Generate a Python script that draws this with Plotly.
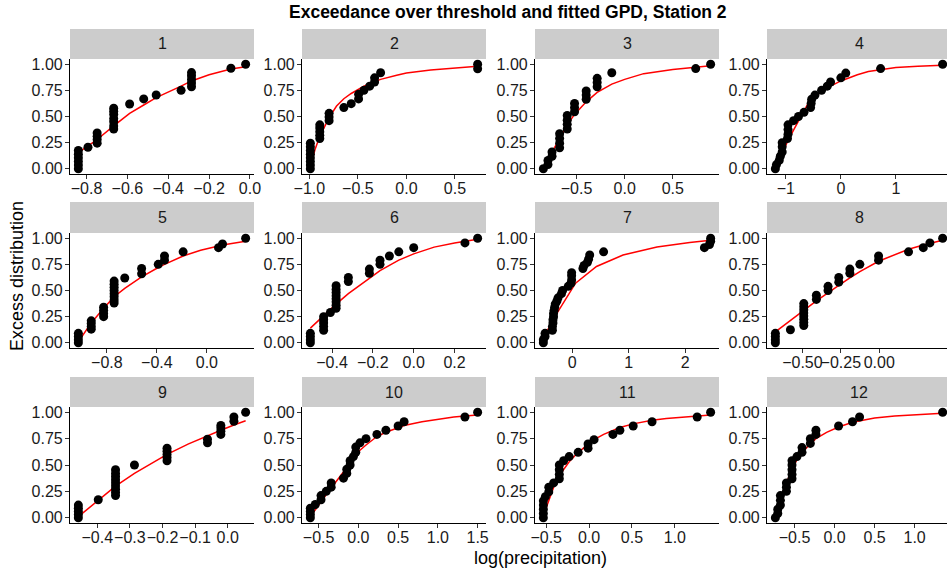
import plotly.graph_objects as go

W, H = 947, 572

# ---------------- data ----------------
months = ["1", "2", "3", "4", "5", "6", "7", "8", "9", "10", "11", "12"]

x1 = [-0.84, -0.84, -0.84, -0.84, -0.84, -0.84, -0.793, -0.748, -0.748, -0.748, -0.748,
      -0.667, -0.667, -0.667, -0.667, -0.667, -0.667, -0.667, -0.589, -0.52, -0.459, -0.337,
      -0.286, -0.286, -0.286, -0.286, -0.286, -0.093, -0.021]
y1 = [0.0, 0.035, 0.07, 0.105, 0.14, 0.175, 0.206, 0.245, 0.28, 0.31, 0.342,
      0.38, 0.41, 0.45, 0.48, 0.52, 0.55, 0.58, 0.62, 0.668, 0.706, 0.75,
      0.785, 0.82, 0.855, 0.89, 0.92, 0.962, 1.0]
fx1 = [-0.84, -0.793, -0.748, -0.667, -0.589, -0.52, -0.459, -0.337, -0.286, -0.2, -0.093, -0.021]
fy1 = [0.155, 0.22, 0.28, 0.41, 0.53, 0.61, 0.68, 0.79, 0.84, 0.90, 0.955, 0.975]

x2 = [-0.99, -0.99, -0.99, -0.99, -0.99, -0.99, -0.99, -0.99,
      -0.893, -0.893, -0.893, -0.893, -0.893, -0.797, -0.797, -0.797,
      -0.645, -0.569, -0.493, -0.493, -0.438, -0.379, -0.328, -0.328, -0.266, 0.734, 0.734]
y2 = [0.0, 0.035, 0.07, 0.105, 0.14, 0.175, 0.21, 0.245,
      0.29, 0.32, 0.355, 0.39, 0.42, 0.46, 0.495, 0.53,
      0.585, 0.623, 0.668, 0.712, 0.75, 0.79, 0.83, 0.87, 0.918, 0.956, 1.0]
fx2 = [-0.99, -0.94, -0.893, -0.797, -0.72, -0.645, -0.569, -0.493, -0.438, -0.379, -0.328,
       -0.266, -0.1, 0.0, 0.25, 0.5, 0.734]
fy2 = [0.02, 0.19, 0.31, 0.49, 0.60, 0.67, 0.72, 0.765, 0.79, 0.815, 0.835,
       0.855, 0.895, 0.915, 0.945, 0.965, 0.98]

x3 = [-0.845, -0.797, -0.797, -0.755, -0.755, -0.676, -0.676, -0.676, -0.676,
      -0.597, -0.597, -0.597, -0.597, -0.521, -0.521, -0.521, -0.4, -0.4, -0.4,
      -0.286, -0.286, -0.286, -0.134, 0.738, 0.893]
y3 = [0.0, 0.04, 0.08, 0.12, 0.16, 0.20, 0.245, 0.29, 0.335,
      0.38, 0.425, 0.465, 0.51, 0.545, 0.585, 0.625, 0.665, 0.705, 0.745,
      0.785, 0.825, 0.865, 0.918, 0.958, 1.0]
fx3 = [-0.845, -0.797, -0.755, -0.676, -0.597, -0.521, -0.4, -0.286, -0.134, 0.0, 0.197,
       0.5, 0.738, 0.893]
fy3 = [0.01, 0.09, 0.17, 0.30, 0.42, 0.52, 0.64, 0.73, 0.81, 0.855, 0.91,
       0.95, 0.972, 0.985]

x4 = [-1.19, -1.17, -1.12, -1.10, -1.066, -1.066, -1.066, -0.97, -0.96, -0.96, -0.96,
      -0.86, -0.77, -0.67, -0.55, -0.54, -0.53, -0.47, -0.35, -0.247, -0.187, 0.0, 0.09, 0.723, 1.85]
y4 = [0.0, 0.04, 0.08, 0.12, 0.16, 0.21, 0.25, 0.29, 0.33, 0.375, 0.42,
      0.46, 0.50, 0.54, 0.585, 0.625, 0.665, 0.705, 0.75, 0.79, 0.83, 0.87, 0.915, 0.958, 1.0]
fx4 = [-1.19, -1.11, -1.066, -0.96, -0.86, -0.77, -0.67, -0.58, -0.47, -0.35, -0.247, -0.187,
       0.0, 0.09, 0.3, 0.5, 0.723, 1.0, 1.4, 1.85]
fy4 = [0.02, 0.11, 0.16, 0.27, 0.37, 0.46, 0.56, 0.64, 0.69, 0.74, 0.77, 0.79,
       0.84, 0.86, 0.90, 0.93, 0.95, 0.968, 0.98, 0.99]

x5 = [-1.028, -1.028, -1.028, -1.028, -0.925, -0.925, -0.925, -0.925, -0.826, -0.826, -0.826, -0.826,
      -0.742, -0.742, -0.742, -0.742, -0.742, -0.742, -0.742, -0.742, -0.657, -0.522, -0.522,
      -0.389, -0.339, -0.339, -0.19, 0.093, 0.125, 0.31]
y5 = [0.0, 0.03, 0.06, 0.09, 0.13, 0.155, 0.185, 0.21, 0.25, 0.28, 0.31, 0.34,
      0.38, 0.41, 0.44, 0.47, 0.50, 0.53, 0.56, 0.59, 0.62, 0.66, 0.71,
      0.75, 0.79, 0.83, 0.87, 0.91, 0.945, 1.0]
fx5 = [-1.028, -0.925, -0.826, -0.742, -0.657, -0.522, -0.389, -0.339, -0.19, -0.05, 0.093, 0.125, 0.31]
fy5 = [0.01, 0.19, 0.33, 0.44, 0.52, 0.63, 0.72, 0.75, 0.83, 0.885, 0.925, 0.935, 0.97]

x6 = [-0.506, -0.506, -0.506, -0.506, -0.441, -0.441, -0.441, -0.441, -0.441, -0.408,
      -0.38, -0.38, -0.38, -0.38, -0.38, -0.38, -0.38, -0.38, -0.32, -0.32, -0.217, -0.217,
      -0.165, -0.165, -0.119, -0.073, 0.0, 0.251, 0.313]
y6 = [0.0, 0.03, 0.06, 0.09, 0.12, 0.155, 0.19, 0.22, 0.25, 0.29,
      0.33, 0.36, 0.39, 0.42, 0.45, 0.48, 0.51, 0.545, 0.585, 0.625, 0.665, 0.705,
      0.75, 0.79, 0.83, 0.87, 0.91, 0.955, 1.0]
fx6 = [-0.506, -0.441, -0.408, -0.38, -0.32, -0.217, -0.165, -0.119, -0.073, 0.0, 0.1, 0.2, 0.251, 0.313]
fy6 = [0.14, 0.26, 0.32, 0.37, 0.47, 0.62, 0.69, 0.74, 0.79, 0.85, 0.915, 0.955, 0.972, 0.99]

x7 = [-0.51, -0.51, -0.48, -0.48, -0.35, -0.35, -0.34, -0.34, -0.33, -0.33, -0.32, -0.31, -0.30,
      -0.27, -0.25, -0.19, -0.17, -0.07, -0.02, -0.01, -0.01, -0.01, 0.19, 0.21,
      0.27, 0.29, 0.31, 0.556, 2.34, 2.43, 2.45, 2.45]
y7 = [0.0, 0.03, 0.06, 0.09, 0.12, 0.155, 0.19, 0.22, 0.25, 0.28, 0.31, 0.34, 0.37,
      0.40, 0.43, 0.47, 0.50, 0.54, 0.57, 0.60, 0.64, 0.67, 0.71, 0.74,
      0.77, 0.80, 0.84, 0.87, 0.91, 0.94, 0.97, 1.0]
fx7 = [-0.5, -0.26, 0.06, 0.43, 0.9, 1.5, 2.08, 2.45]
fy7 = [0.06, 0.29, 0.57, 0.73, 0.84, 0.915, 0.96, 0.98]

x8 = [-0.676, -0.676, -0.676, -0.676, -0.578, -0.491, -0.491, -0.491, -0.491, -0.491, -0.491,
      -0.491, -0.491, -0.409, -0.409, -0.333, -0.333, -0.263, -0.263, -0.191, -0.191, -0.126,
      -0.004, -0.004, 0.191, 0.287, 0.33, 0.413]
y8 = [0.0, 0.03, 0.06, 0.09, 0.125, 0.165, 0.195, 0.225, 0.255, 0.285, 0.315,
      0.345, 0.375, 0.415, 0.455, 0.50, 0.54, 0.58, 0.625, 0.665, 0.705, 0.75,
      0.79, 0.83, 0.87, 0.91, 0.955, 1.0]
fx8 = [-0.676, -0.578, -0.491, -0.409, -0.333, -0.263, -0.191, -0.126, -0.004, 0.1, 0.191, 0.287, 0.33, 0.413]
fy8 = [0.105, 0.21, 0.31, 0.40, 0.48, 0.55, 0.62, 0.68, 0.78, 0.845, 0.895, 0.935, 0.95, 0.98]

x9 = [-0.458, -0.458, -0.458, -0.458, -0.458, -0.397, -0.344, -0.344, -0.344, -0.344, -0.344,
      -0.344, -0.344, -0.344, -0.344, -0.286, -0.186, -0.186, -0.186, -0.186, -0.186,
      -0.062, -0.062, -0.021, -0.021, -0.021, -0.021, 0.019, 0.019, 0.055]
y9 = [0.0, 0.03, 0.06, 0.09, 0.12, 0.17, 0.21, 0.24, 0.27, 0.30, 0.33,
      0.36, 0.39, 0.42, 0.455, 0.50, 0.54, 0.57, 0.60, 0.63, 0.66,
      0.71, 0.745, 0.79, 0.82, 0.85, 0.875, 0.915, 0.955, 1.0]
fx9 = [-0.458, -0.397, -0.344, -0.286, -0.186, -0.12, -0.062, -0.021, 0.019, 0.055]
fy9 = [0.01, 0.17, 0.30, 0.42, 0.60, 0.70, 0.78, 0.83, 0.88, 0.92]

x10 = [-0.604, -0.604, -0.604, -0.604, -0.542, -0.47, -0.47, -0.404, -0.342, -0.342, -0.1875,
       -0.146, -0.146, -0.104, -0.104, -0.0625, -0.033, -0.033, 0.02, 0.096, 0.233, 0.346,
       0.5, 0.575, 1.34, 1.5]
y10 = [0.0, 0.03, 0.06, 0.09, 0.125, 0.17, 0.21, 0.25, 0.29, 0.33, 0.375,
       0.42, 0.46, 0.50, 0.54, 0.58, 0.62, 0.67, 0.71, 0.75, 0.79, 0.83,
       0.87, 0.91, 0.955, 1.0]
fx10 = [-0.604, -0.542, -0.47, -0.404, -0.342, -0.26, -0.1875, -0.146, -0.104, -0.0625, -0.033,
        0.02, 0.096, 0.233, 0.346, 0.5, 0.575, 0.8, 1.0, 1.2, 1.34, 1.5]
fy10 = [0.01, 0.07, 0.15, 0.22, 0.28, 0.37, 0.44, 0.48, 0.52, 0.56, 0.59,
        0.64, 0.69, 0.77, 0.81, 0.855, 0.875, 0.91, 0.935, 0.955, 0.965, 0.975]

x11 = [-0.533, -0.533, -0.533, -0.533, -0.533, -0.51, -0.47, -0.47, -0.413,
       -0.347, -0.347, -0.347, -0.347, -0.297, -0.232, -0.127, -0.012, -0.012,
       0.058, 0.278, 0.359, 0.514, 0.734, 1.26, 1.417]
y11 = [0.0, 0.04, 0.08, 0.12, 0.16, 0.20, 0.245, 0.29, 0.33,
       0.37, 0.41, 0.455, 0.50, 0.54, 0.58, 0.62, 0.66, 0.70,
       0.74, 0.79, 0.83, 0.87, 0.91, 0.955, 1.0]
fx11 = [-0.533, -0.47, -0.413, -0.347, -0.297, -0.232, -0.127, -0.012, 0.058, 0.17, 0.278,
        0.359, 0.514, 0.734, 0.9, 1.1, 1.26, 1.417]
fy11 = [0.02, 0.17, 0.29, 0.40, 0.46, 0.53, 0.62, 0.70, 0.74, 0.79, 0.83,
        0.855, 0.89, 0.925, 0.942, 0.956, 0.965, 0.975]

x12 = [-0.74, -0.71, -0.71, -0.677, -0.677, -0.677, -0.602, -0.602, -0.602,
       -0.532, -0.532, -0.532, -0.532, -0.532, -0.47, -0.407, -0.407, -0.303, -0.303,
       -0.233, -0.233, 0.05, 0.224, 0.312, 1.35]
y12 = [0.0, 0.04, 0.08, 0.12, 0.165, 0.21, 0.25, 0.29, 0.33,
       0.37, 0.41, 0.455, 0.50, 0.54, 0.58, 0.62, 0.665, 0.705, 0.75,
       0.79, 0.83, 0.87, 0.91, 0.955, 1.0]
fx12 = [-0.74, -0.71, -0.677, -0.602, -0.532, -0.47, -0.407, -0.303, -0.233, -0.1, 0.05,
        0.224, 0.312, 0.5, 0.75, 1.0, 1.35]
fy12 = [0.05, 0.12, 0.19, 0.33, 0.46, 0.55, 0.62, 0.70, 0.75, 0.81, 0.86,
        0.905, 0.92, 0.945, 0.965, 0.978, 0.99]

points_x = [x1, x2, x3, x4, x5, x6, x7, x8, x9, x10, x11, x12]
points_y = [y1, y2, y3, y4, y5, y6, y7, y8, y9, y10, y11, y12]
fit_x = [fx1, fx2, fx3, fx4, fx5, fx6, fx7, fx8, fx9, fx10, fx11, fx12]
fit_y = [fy1, fy2, fy3, fy4, fy5, fy6, fy7, fy8, fy9, fy10, fy11, fy12]

x_tickvals = [
    [-0.8, -0.6, -0.4, -0.2, 0.0],
    [-1.0, -0.5, 0.0, 0.5],
    [-0.5, 0.0, 0.5],
    [-1, 0, 1],
    [-0.8, -0.4, 0.0],
    [-0.4, -0.2, 0.0, 0.2],
    [0, 1, 2],
    [-0.5, -0.25, 0.0],
    [-0.4, -0.3, -0.2, -0.1, 0.0],
    [-0.5, 0.0, 0.5, 1.0, 1.5],
    [-0.5, 0.0, 0.5, 1.0],
    [-0.5, 0.0, 0.5, 1.0],
]
x_ticktext = [
    ["\u22120.8", "\u22120.6", "\u22120.4", "\u22120.2", "0.0"],
    ["\u22121.0", "\u22120.5", "0.0", "0.5"],
    ["\u22120.5", "0.0", "0.5"],
    ["\u22121", "0", "1"],
    ["\u22120.8", "\u22120.4", "0.0"],
    ["\u22120.4", "\u22120.2", "0.0", "0.2"],
    ["0", "1", "2"],
    ["\u22120.50", "\u22120.25", "0.00"],
    ["\u22120.4", "\u22120.3", "\u22120.2", "\u22120.1", "0.0"],
    ["\u22120.5", "0.0", "0.5", "1.0", "1.5"],
    ["\u22120.5", "0.0", "0.5", "1.0"],
    ["\u22120.5", "0.0", "0.5", "1.0"],
]
y_tickvals = [0.0, 0.25, 0.5, 0.75, 1.0]
y_ticktext = ["0.00", "0.25", "0.50", "0.75", "1.00"]

title = "Exceedance over threshold and fitted GPD, Station 2"
x_title = "log(precipitation)"
y_title = "Excess distribution"

# ---------------- layout geometry (pixels) ----------------
# full panel extent; the last column runs slightly past the page edge in the reference
col_px = [(70, 254), (302, 486), (535, 719), (767, 951)]
row_panel_px = [(59, 174), (233, 348), (407, 523)]
row_strip_px = [(29, 59), (202, 233), (377, 407)]

FONT = "Liberation Sans, Arial, Helvetica, sans-serif"
TXT = "#1A1A1A"
TICK_SIZE = 16


def px_x(p):
    return min(p, W) / W


def px_y(p):
    return 1 - p / H


fig = go.Figure()
layout = dict(
    width=W, height=H,
    margin=dict(l=0, r=0, t=0, b=0, autoexpand=False),
    paper_bgcolor="white", plot_bgcolor="white",
    showlegend=False,
    font=dict(family=FONT, color=TXT),
)
shapes = []
annotations = []

for k in range(12):
    r, c = divmod(k, 4)
    xn = "x" if k == 0 else f"x{k + 1}"
    yn = "y" if k == 0 else f"y{k + 1}"
    xa = "xaxis" if k == 0 else f"xaxis{k + 1}"
    ya = "yaxis" if k == 0 else f"yaxis{k + 1}"

    fig.add_trace(go.Scatter(x=fit_x[k], y=fit_y[k], mode="lines",
                             line=dict(color="#FF0000", width=1.5),
                             xaxis=xn, yaxis=yn, hoverinfo="skip"))
    fig.add_trace(go.Scatter(x=points_x[k], y=points_y[k], mode="markers",
                             marker=dict(color="black", size=9, line=dict(width=0)),
                             xaxis=xn, yaxis=yn, cliponaxis=False))

    allx = points_x[k] + fit_x[k]
    lo, hi = min(allx), max(allx)
    pad = 0.05 * (hi - lo)
    rlo, rhi = lo - pad, hi + pad

    x0, x1p = col_px[c]
    vis_right = min(x1p, W)
    # trim the range to the visible part of the panel
    rhi_vis = rlo + (rhi - rlo) * (vis_right - x0) / (x1p - x0)
    ty, by = row_panel_px[r]
    layout[xa] = dict(
        domain=[px_x(x0), px_x(vis_right)], anchor=yn,
        range=[rlo, rhi_vis], automargin=False,
        showgrid=False, zeroline=False,
        showline=True, linecolor="black", linewidth=1.2,
        ticks="outside", ticklen=4, tickwidth=1, tickcolor="#333333",
        tickvals=x_tickvals[k], ticktext=x_ticktext[k], tickangle=0,
        ticklabelstandoff=-4,
        tickfont=dict(size=TICK_SIZE, color=TXT, family=FONT),
        fixedrange=True,
    )
    layout[ya] = dict(
        domain=[px_y(by), px_y(ty)], anchor=xn,
        range=[-0.05, 1.05], automargin=False,
        showgrid=False, zeroline=False,
        showline=True, linecolor="black", linewidth=1.2,
        ticks="outside", ticklen=4, tickwidth=1, tickcolor="#333333",
        tickvals=y_tickvals, ticktext=y_ticktext,
        ticklabelstandoff=-1,
        tickfont=dict(size=TICK_SIZE, color=TXT, family=FONT),
        fixedrange=True,
    )
    st, sb = row_strip_px[r]
    shapes.append(dict(type="rect", xref="paper", yref="paper",
                       x0=px_x(x0), x1=px_x(x1p), y0=px_y(sb), y1=px_y(st),
                       fillcolor="#CCCCCC", line=dict(width=0), layer="below"))
    annotations.append(dict(text=months[k], xref="paper", yref="paper",
                            x=px_x((x0 + x1p) / 2), y=px_y((st + sb) / 2),
                            showarrow=False, xanchor="center", yanchor="middle",
                            font=dict(size=TICK_SIZE, color=TXT, family=FONT)))

annotations.append(dict(text="<b>" + title + "</b>", xref="paper", yref="paper",
                        x=px_x(508), y=px_y(12), showarrow=False,
                        xanchor="center", yanchor="middle",
                        font=dict(size=17.5, color="black", family=FONT)))
annotations.append(dict(text=x_title, xref="paper", yref="paper",
                        x=px_x(540), y=px_y(558), showarrow=False,
                        xanchor="center", yanchor="middle",
                        font=dict(size=18, color="black", family=FONT)))
annotations.append(dict(text=y_title, xref="paper", yref="paper",
                        x=px_x(17), y=px_y(276), showarrow=False, textangle=-90,
                        xanchor="center", yanchor="middle",
                        font=dict(size=18, color="black", family=FONT)))

layout["shapes"] = shapes
layout["annotations"] = annotations
fig.update_layout(**layout)
fig.write_html(
    "out.html",
    config={"displayModeBar": False},
    post_script="document.body.style.margin='0px';document.body.style.overflow='hidden';",
)
